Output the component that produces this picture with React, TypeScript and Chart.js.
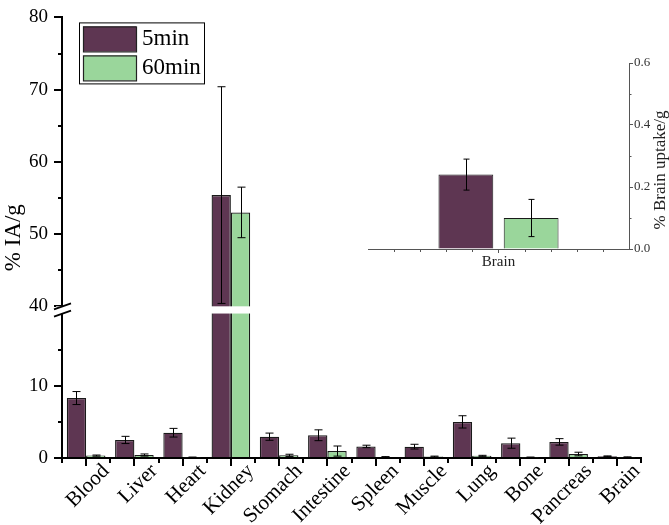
import React, { useEffect, useRef } from 'react';
import { Chart, registerables, LinearScale } from 'chart.js';

Chart.register(...registerables);

// ---------- data ----------
const categories = ['Blood', 'Liver', 'Heart', 'Kidney', 'Stomach', 'Intestine', 'Spleen', 'Muscle', 'Lung', 'Bone', 'Pancreas', 'Brain'];
const uptake5min = [8.3, 2.5, 3.5, 55.4, 2.95, 3.15, 1.6, 1.57, 5.0, 2.05, 2.23, 0.24];
const error5min = [0.9, 0.5, 0.6, 15.0, 0.5, 0.75, 0.17, 0.33, 0.85, 0.7, 0.45, 0.05];
const uptake60min = [0.33, 0.41, 0.1, 53.0, 0.37, 0.96, 0.15, 0.2, 0.3, 0.1, 0.55, 0.1];
const error60min = [0.08, 0.15, 0.03, 3.5, 0.15, 0.7, 0.04, 0.06, 0.07, 0.03, 0.25, 0.06];
const seriesLabels = ['5min', '60min'];
const majorTicks = [0, 10, 40, 50, 60, 70, 80];
const minorTicks = [5, 15, 45, 55, 65, 75];

const insetCategories = ['Brain'];
const insetUptake5min = [0.24];
const insetError5min = [0.05];
const insetUptake60min = [0.1];
const insetError60min = [0.06];
const insetMajorTicks = [0, 0.2, 0.4, 0.6];
const insetMinorTicks = [0.1, 0.3, 0.5];

const PURPLE = '#5e3652';
const GREEN = '#9ad69b';
const FONT = "'Liberation Serif', 'DejaVu Serif', serif";

// ---------- broken axis scale ----------
const BREAK_LOW = 20;
const BREAK_HIGH = 40;
const BREAK_GAP = 1;
function toT(v: number) {
  if (v <= BREAK_LOW) return v;
  if (v >= BREAK_HIGH) return v - BREAK_HIGH + BREAK_LOW + BREAK_GAP;
  return BREAK_LOW + ((v - BREAK_LOW) / (BREAK_HIGH - BREAK_LOW)) * BREAK_GAP;
}
function fromT(t: number) {
  if (t <= BREAK_LOW) return t;
  if (t >= BREAK_LOW + BREAK_GAP) return t - BREAK_LOW - BREAK_GAP + BREAK_HIGH;
  return BREAK_LOW + ((t - BREAK_LOW) / BREAK_GAP) * (BREAK_HIGH - BREAK_LOW);
}

class BrokenLinearScale extends LinearScale {
  static id = 'brokenLinear';
  static defaults = LinearScale.defaults;
  getPixelForValue(value: number) {
    const t0 = toT(this.min);
    const t1 = toT(this.max);
    return this.getPixelForDecimal((toT(value) - t0) / (t1 - t0));
  }
  getValueForPixel(pixel: number) {
    const t0 = toT(this.min);
    const t1 = toT(this.max);
    return fromT(t0 + this.getDecimalForPixel(pixel) * (t1 - t0));
  }
}
Chart.register(BrokenLinearScale as any);

function makeErrorPlugin(errors: number[][], cap: number) {
  return {
    id: 'errorBars',
    afterDatasetsDraw(chart: any) {
      const ctx = chart.ctx;
      ctx.save();
      ctx.strokeStyle = '#000';
      ctx.lineWidth = 1;
      chart.data.datasets.forEach((ds: any, di: number) => {
        const meta = chart.getDatasetMeta(di);
        const ys = chart.scales[meta.yAxisID];
        meta.data.forEach((bar: any, i: number) => {
          const v = ds.data[i];
          const e = errors[di][i];
          const top = ys.getPixelForValue(v + e);
          const bot = ys.getPixelForValue(v - e);
          const x = Math.round(bar.x) + 0.5;
          ctx.beginPath();
          ctx.moveTo(x, top);
          ctx.lineTo(x, bot);
          ctx.moveTo(x - cap / 2, top);
          ctx.lineTo(x + cap / 2, top);
          ctx.moveTo(x - cap / 2, bot);
          ctx.lineTo(x + cap / 2, bot);
          ctx.stroke();
        });
      });
      ctx.restore();
    },
  };
}

const mainDecorPlugin = {
  id: 'mainDecor',
  afterDatasetsDraw(chart: any) {
    const ctx = chart.ctx;
    const y = chart.scales.y;
    const x = chart.scales.x;
    const area = chart.chartArea;
    ctx.save();
    ctx.strokeStyle = '#000';
    ctx.lineWidth = 2;
    minorTicks.forEach((v) => {
      const py = Math.round(y.getPixelForValue(v));
      ctx.beginPath();
      ctx.moveTo(y.right - 4, py);
      ctx.lineTo(y.right, py);
      ctx.stroke();
    });
    const n = categories.length;
    for (let i = 0; i <= n; i++) {
      const px = Math.round(x.getPixelForDecimal(i / n));
      ctx.beginPath();
      ctx.moveTo(px, x.top);
      ctx.lineTo(px, x.top + 5);
      ctx.stroke();
    }
    const yHigh = y.getPixelForValue(BREAK_HIGH);
    const yLow = y.getPixelForValue(BREAK_LOW);
    ctx.fillStyle = '#fff';
    ctx.fillRect(y.right - 6, yHigh, area.right - y.right + 6, yLow - yHigh);
    ctx.lineWidth = 1.8;
    [yHigh, yLow].forEach((py) => {
      ctx.beginPath();
      ctx.moveTo(y.right - 8, py + 3);
      ctx.lineTo(y.right + 9, py - 3);
      ctx.stroke();
    });
    ctx.restore();
  },
  afterDraw(chart: any) {
    const ctx = chart.ctx;
    const area = chart.chartArea;
    const bx = area.left + 17;
    const by = area.top + 5;
    const bw = 125;
    const bh = 61;
    ctx.save();
    ctx.fillStyle = '#fff';
    ctx.fillRect(bx, by, bw, bh);
    ctx.strokeStyle = '#000';
    ctx.lineWidth = 1;
    ctx.strokeRect(bx + 0.5, by + 0.5, bw, bh);
    chart.data.datasets.forEach((ds: any, i: number) => {
      const sy = by + 4 + i * 29;
      ctx.fillStyle = ds.backgroundColor;
      ctx.fillRect(bx + 4, sy, 53, 25);
      ctx.strokeStyle = '#222';
      ctx.lineWidth = 1.2;
      ctx.strokeRect(bx + 4.5, sy + 0.5, 53, 25);
      ctx.fillStyle = '#000';
      ctx.font = `23px ${FONT}`;
      ctx.textBaseline = 'middle';
      ctx.textAlign = 'left';
      ctx.fillText(ds.label, bx + 63, sy + 13);
    });
    ctx.restore();
  },
};

const insetDecorPlugin = {
  id: 'insetDecor',
  afterDraw(chart: any) {
    const ctx = chart.ctx;
    const y = chart.scales.y;
    const x = chart.scales.x;
    const area = chart.chartArea;
    ctx.save();
    ctx.strokeStyle = '#555';
    ctx.lineWidth = 1;
    insetMinorTicks.forEach((v) => {
      const py = Math.round(y.getPixelForValue(v)) + 0.5;
      ctx.beginPath();
      ctx.moveTo(y.left, py);
      ctx.lineTo(y.left + 2.5, py);
      ctx.stroke();
    });
    for (let i = 1; i < 10; i++) {
      if (i === 5) continue;
      const px = Math.round(x.getPixelForDecimal(i / 10)) + 0.5;
      ctx.beginPath();
      ctx.moveTo(px, x.top);
      ctx.lineTo(px, x.top + 3);
      ctx.stroke();
    }
    ctx.fillStyle = '#222';
    ctx.font = `17px ${FONT}`;
    ctx.textAlign = 'center';
    ctx.textBaseline = 'middle';
    ctx.translate(y.right - 8, (area.top + area.bottom) / 2 + 14);
    ctx.rotate(-Math.PI / 2);
    ctx.fillText('% Brain uptake/g', 0, 0);
    ctx.restore();
  },
};

export default function App() {
  const mainRef = useRef<HTMLCanvasElement>(null);
  const insetRef = useRef<HTMLCanvasElement>(null);

  useEffect(() => {
    Chart.defaults.font.family = FONT;
    Chart.defaults.color = '#000';

    const main = new Chart(mainRef.current!, {
      type: 'bar',
      data: {
        labels: categories,
        datasets: [
          { label: seriesLabels[0], data: uptake5min, backgroundColor: PURPLE, borderColor: '#1a1a1a', borderWidth: 1.3 },
          { label: seriesLabels[1], data: uptake60min, backgroundColor: GREEN, borderColor: '#1a1a1a', borderWidth: 1.3 },
        ],
      },
      options: {
        responsive: false,
        animation: false,
        events: [],
        layout: { padding: { left: 0, top: 10, right: 28, bottom: 0 } },
        datasets: { bar: { categoryPercentage: 0.8, barPercentage: 1.0 } },
        plugins: { legend: { display: false }, tooltip: { enabled: false } },
        scales: {
          x: {
            type: 'category',
            grid: { display: true, drawOnChartArea: false, offset: false, tickLength: 8, color: '#000', lineWidth: 2 },
            border: { display: true, color: '#000', width: 2 },
            ticks: { autoSkip: false, maxRotation: 45, minRotation: 45, padding: -7, labelOffset: 20, color: '#000', font: { size: 21, family: FONT } },
            afterFit: (s: any) => { s.height = 67; },
          },
          y: {
            type: 'brokenLinear' as any,
            min: 0,
            max: 80,
            afterBuildTicks: (s: any) => { s.ticks = majorTicks.map((v) => ({ value: v })); },
            grid: { drawOnChartArea: false, tickLength: 8, color: '#000', lineWidth: 2 },
            border: { display: true, color: '#000', width: 2 },
            ticks: { padding: 6, color: '#000', font: { size: 19, family: FONT }, callback: (v: any) => String(v) },
            title: { display: true, text: '% IA/g', color: '#000', font: { size: 23, family: FONT }, padding: 0 },
            afterFit: (s: any) => { s.width = 62; },
          },
        },
      } as any,
      plugins: [makeErrorPlugin([error5min, error60min], 8), mainDecorPlugin],
    });

    const inset = new Chart(insetRef.current!, {
      type: 'bar',
      data: {
        labels: insetCategories,
        datasets: [
          { label: seriesLabels[0], data: insetUptake5min, backgroundColor: PURPLE, borderColor: '#1a1a1a', borderWidth: 1 },
          { label: seriesLabels[1], data: insetUptake60min, backgroundColor: GREEN, borderColor: '#1a1a1a', borderWidth: 1 },
        ],
      },
      options: {
        responsive: false,
        animation: false,
        events: [],
        layout: { padding: { left: 8, top: 23, right: 0, bottom: 0 } },
        datasets: { bar: { categoryPercentage: 0.5, barPercentage: 0.84 } },
        plugins: { legend: { display: false }, tooltip: { enabled: false } },
        scales: {
          x: {
            type: 'category',
            grid: { display: true, drawOnChartArea: false, offset: false, tickLength: 4, color: '#555', lineWidth: 1 },
            border: { display: true, color: '#555', width: 1 },
            ticks: { padding: 0, color: '#222', font: { size: 15, family: FONT } },
            afterFit: (s: any) => { s.height = 31; },
          },
          y: {
            position: 'right',
            min: 0,
            max: 0.6,
            afterBuildTicks: (s: any) => { s.ticks = insetMajorTicks.map((v) => ({ value: v })); },
            grid: { drawOnChartArea: false, tickLength: 4, color: '#555', lineWidth: 1 },
            border: { display: true, color: '#555', width: 1 },
            ticks: { padding: 1, color: '#333', font: { size: 13, family: FONT }, callback: (v: any) => Number(v).toFixed(1) },
            afterFit: (s: any) => { s.width = 40; },
          },
        },
      } as any,
      plugins: [makeErrorPlugin([insetError5min, insetError60min], 6), insetDecorPlugin],
    });

    return () => {
      main.destroy();
      inset.destroy();
    };
  }, []);

  return (
    <div style={{ position: 'fixed', left: 0, top: 0, width: 669, height: 525, background: '#fff' }}>
      <canvas ref={mainRef} width={669} height={525} style={{ position: 'absolute', left: 0, top: 0 }} />
      <canvas ref={insetRef} width={309} height={240} style={{ position: 'absolute', left: 360, top: 40 }} />
    </div>
  );
}
